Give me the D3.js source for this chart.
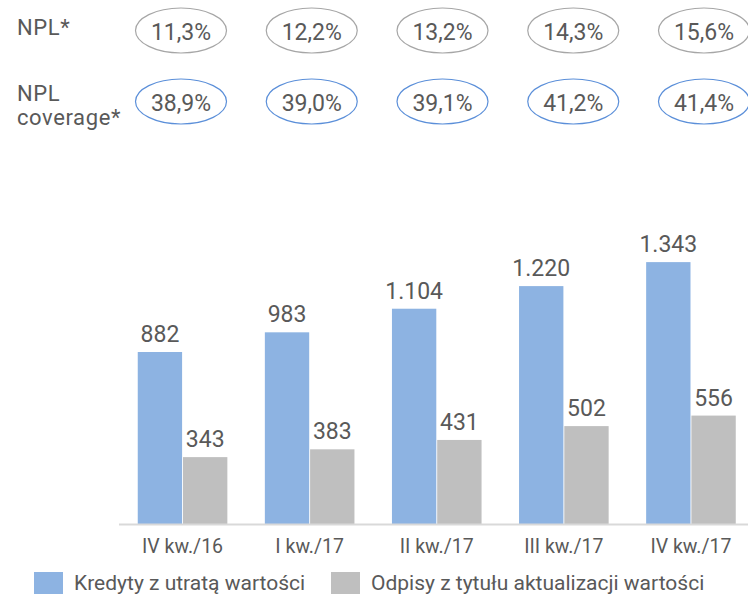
<!DOCTYPE html>
<html>
<head>
<meta charset="utf-8">
<script src="https://cdn.jsdelivr.net/npm/d3@7"></script>
<style>
  html, body { margin: 0; padding: 0; background: #fff; }
  svg text { font-family: Roboto, "DejaVu Sans", sans-serif; fill: #595959; }
</style>
</head>
<body>
<svg id="chart" width="748" height="594"></svg>
<script>
// data
var quarters = ['IV kw./16', 'I kw./17', 'II kw./17', 'III kw./17', 'IV kw./17'];
var kredyty = [882, 983, 1104, 1220, 1343];   // Kredyty z utratą wartości
var odpisy = [343, 383, 431, 502, 556];       // Odpisy z tytułu aktualizacji wartości
var npl = ['11,3%', '12,2%', '13,2%', '14,3%', '15,6%'];
var nplCoverage = ['38,9%', '39,0%', '39,1%', '41,2%', '41,4%'];
var seriesNames = ['Kredyty z utratą wartości', 'Odpisy z tytułu aktualizacji wartości'];

var BLUE = '#8db3e2', GREY = '#bfbfbf';

var svg = d3.select('#chart');
var base = 524;

// polish-ish thousands: 1.104
function fmt(v) {
	return v >= 1000 ? Math.floor(v/1000) + '.' + String(v%1000).padStart(3,'0') : String(v);
}

// scales
var x = d3.scaleBand()
	.domain(quarters)
	.range([119, 119 + 127.1*5])
	.paddingInner(0.295)
	.paddingOuter(0.1475);

var xs = d3.scaleBand()
	.domain([0, 1])
	.range([0, x.bandwidth()])
	.paddingInner(0.02);

var y = d3.scaleLinear()
	.domain([0, 1400])
	.range([base, base - 273]);

// ellipses sit on their own spacing
var xe = d3.scalePoint()
	.domain(quarters)
	.range([181, 704]);

// top rows -----------------------------------------------
function rowLabel(txt, yy) {
	svg.append('text').attr('x', 17).attr('y', yy)
		.style('font-size', '22px')
		.style('letter-spacing', '0.6px').text(txt);
}
rowLabel('NPL*', 35);
rowLabel('NPL', 101);
rowLabel('coverage*', 125);

function ovalRow(vals, cy, stroke) {
	var g = svg.append('g').selectAll('g').data(vals).join('g')
		.attr('transform', (d,i) => 'translate(' + xe(quarters[i]) + ',' + cy + ')');
	g.append('ellipse')
		.attr('rx', 45.5).attr('ry', 22.5)
		.attr('fill', 'none').attr('stroke', stroke).attr('stroke-width', 1.2);
	g.append('text')
		.attr('text-anchor', 'middle').attr('y', 9)
		.style('font-size', '23px')
		.text(d => d);
}
ovalRow(npl, 30.5, '#a6a6a6');
ovalRow(nplCoverage, 101.5, '#5b8fd9');

// bars ---------------------------------------------------
var groups = svg.append('g').selectAll('g').data(quarters).join('g')
	.attr('transform', d => 'translate(' + x(d) + ',0)');

groups.append('rect')
	.attr('x', xs(0)).attr('width', xs.bandwidth())
	.attr('y', (d,i) => y(kredyty[i]))
	.attr('height', (d,i) => base - y(kredyty[i]))
	.attr('fill', BLUE);

groups.append('rect')
	.attr('x', xs(1)).attr('width', xs.bandwidth())
	.attr('y', (d,i) => y(odpisy[i]))
	.attr('height', (d,i) => base - y(odpisy[i]))
	.attr('fill', GREY);

groups.append('text')
	.attr('text-anchor', 'middle')
	.attr('x', xs(0) + xs.bandwidth()/2)
	.attr('y', (d,i) => y(kredyty[i]) - 10)
	.style('font-size', '23px')
	.text((d,i) => fmt(kredyty[i]));

groups.append('text')
	.attr('text-anchor', 'middle')
	.attr('x', xs(1) + xs.bandwidth()/2)
	.attr('y', (d,i) => y(odpisy[i]) - 10)
	.style('font-size', '23px')
	.text((d,i) => fmt(odpisy[i]));

// axis
var xAxis = svg.append('g')
	.attr('transform', 'translate(0,' + base + ')')
	.call(d3.axisBottom(x).tickSize(0).tickPadding(0));
xAxis.select('.domain').attr('d', 'M119,0.5H760').attr('stroke', '#d9d9d9').attr('stroke-width', 2);
xAxis.selectAll('.tick text')
	.attr('dy', null).attr('y', 29)
	.style('font-size', '19.5px')
	.style('font-family', 'Roboto, sans-serif')
	.attr('fill', '#595959');

// legend
var legend = svg.append('g').selectAll('g').data(seriesNames).join('g')
	.attr('transform', (d,i) => 'translate(' + [34, 331][i] + ',572)');
legend.append('rect')
	.attr('width', 29).attr('height', 22)
	.attr('fill', (d,i) => [BLUE, GREY][i]);
legend.append('text')
	.attr('x', 40).attr('y', 18)
	.style('font-size', '21px')
	.text(d => d);
</script>
</body>
</html>
